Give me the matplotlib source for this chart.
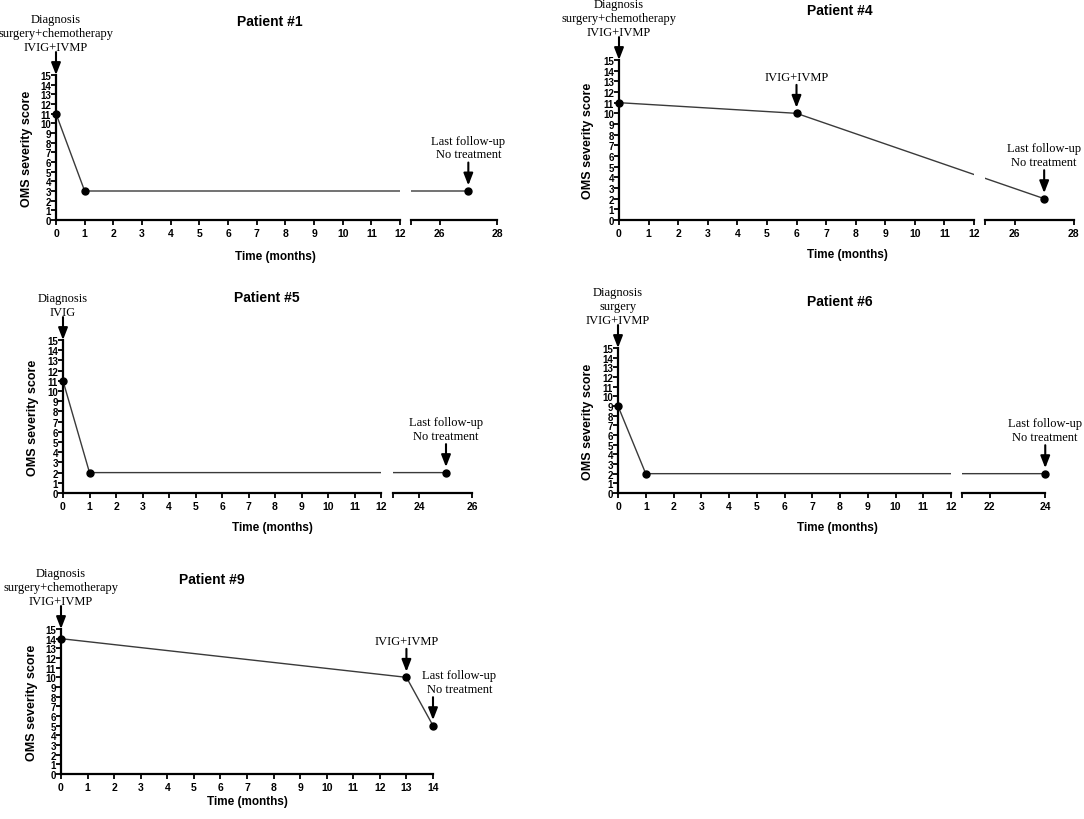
import numpy as np
import matplotlib
matplotlib.use('Agg')
import matplotlib.pyplot as plt

W, H = 1084, 820
SANS = ['Liberation Sans', 'DejaVu Sans']
SERIF = ['Liberation Serif', 'DejaVu Serif']
plt.rcParams['font.family'] = SANS

# ---------------- data ----------------
diag_full = "Diagnosis\nsurgery+chemotherapy\nIVIG+IVMP"
follow = "Last follow-up\nNo treatment"

p1_months = [0, 1, 27]
p1_scores = [11, 3, 3]
p1_events = [0, 27]
p1_labels = [diag_full, follow]
p1_right_ticks = [25, 26, 28]
p1_right_labels = ['', '26', '28']

p4_months = [0, 6, 27]
p4_scores = [11, 10, 2]
p4_events = [0, 6, 27]
p4_labels = [diag_full, "IVIG+IVMP", follow]
p4_right_ticks = [25, 26, 28]
p4_right_labels = ['', '26', '28']

p5_months = [0, 1, 25]
p5_scores = [11, 2, 2]
p5_events = [0, 25]
p5_labels = ["Diagnosis\nIVIG", follow]
p5_right_ticks = [23, 24, 26]
p5_right_labels = ['', '24', '26']

p6_months = [0, 1, 24]
p6_scores = [9, 2, 2]
p6_events = [0, 24]
p6_labels = ["Diagnosis\nsurgery\nIVIG+IVMP", follow]
p6_right_ticks = [21, 22, 24]
p6_right_labels = ['', '22', '24']

p9_months = [0, 13, 14]
p9_scores = [14, 10, 5]
p9_events = [0, 13, 14]
p9_labels = [diag_full, "IVIG+IVMP", follow]

y_ticks = list(range(0, 16))
left_ticks = list(range(0, 13))
p9_ticks = list(range(0, 15))

# ---------------- styling ----------------
LINE_C = '#3a3a3a'
ARROW = dict(arrowstyle='-|>,head_length=0.72,head_width=0.28', mutation_scale=10,
             lw=1.5, color='black', shrinkA=0)
XT_SIZE = 7.5
YT_SIZE = 7

fig = plt.figure(figsize=(W / 100, H / 100), dpi=100)
fig.patch.set_facecolor('white')


def px_axes(x0, x1, ytop, ybot):
    return fig.add_axes([x0 / W, 1 - ybot / H, (x1 - x0) / W, (ybot - ytop) / H])


def make_scale(rs, g):
    def fwd(x):
        x = np.asarray(x, float)
        return np.where(x <= 12, x,
                        np.where(x >= rs, x - rs + 12 + g, 12 + (x - 12) * g / (rs - 12)))

    def inv(y):
        y = np.asarray(y, float)
        return np.where(y <= 12, y,
                        np.where(y >= 12 + g, y - 12 - g + rs, 12 + (y - 12) * (rs - 12) / g))
    return fwd, inv


def style(ax, show_y=True):
    ax.patch.set_alpha(0)
    for s in ['top', 'right']:
        ax.spines[s].set_visible(False)
    ax.spines['bottom'].set_linewidth(1.6)
    ax.set_ylim(0, 15)
    if show_y:
        ax.spines['left'].set_linewidth(1.6)
        ax.set_yticks(y_ticks, [str(v) for v in y_ticks], fontweight='bold', fontsize=YT_SIZE)
        ax.tick_params(axis='y', length=3.3, width=1.3, pad=0.3)
    else:
        ax.spines['left'].set_visible(False)
        ax.tick_params(axis='y', left=False, labelleft=False)
    ax.tick_params(axis='x', length=3.3, width=1.3, pad=2.5)


def annotate_events(ax_for, months, scores, events, labels, text_dx=None):
    for i, (ev, lab) in enumerate(zip(events, labels)):
        ax = ax_for(ev)
        if i == 0:
            y = 15
            tail, tip, tgap = 16.5, 0.0, -0.5
        else:
            y = scores[months.index(ev)]
            tail, tip, tgap = 20.5, 4.0, 1.5
        dx = 0 if text_dx is None else text_dx[i]
        ax.annotate('', xy=(ev, y), xycoords='data', xytext=(0, tail),
                    textcoords='offset points',
                    arrowprops=dict(ARROW, shrinkB=tip), annotation_clip=False)
        ax.annotate(lab, xy=(ev, y), xycoords='data', xytext=(dx, tail + tgap),
                    textcoords='offset points', ha='center', va='bottom',
                    family=SERIF, fontsize=9, fontweight='normal',
                    annotation_clip=False)


def draw_broken(months, scores, events, labels, rticks, rlabels,
                x0, x1, gap, ytop, ybot):
    ppm = (x1 - x0) / 12.0
    g = gap / ppm
    rs = rticks[0]
    fwd, inv = make_scale(rs, g)
    axl = px_axes(x0, x1, ytop, ybot)
    axr = px_axes(x1 + gap, x1 + gap + 3 * ppm, ytop, ybot)
    m = np.array(months)
    s = np.array(scores)
    for ax, lim in ((axl, (0, 12)), (axr, (rs, rs + 3))):
        ax.set_xscale('function', functions=(fwd, inv))
        ax.set_xlim(*lim)
        ax.plot(months, scores, color=LINE_C, lw=1.0, zorder=2)
        sel = (m >= lim[0]) & (m <= lim[1])
        ax.plot(m[sel], s[sel], 'o', color='black', ms=5, clip_on=False, zorder=3)
    style(axl, True)
    style(axr, False)
    axl.set_xticks(left_ticks, [str(v) for v in left_ticks], fontweight='bold', fontsize=XT_SIZE)
    axr.set_xticks(rticks, rlabels, fontweight='bold', fontsize=XT_SIZE)
    annotate_events(lambda e: axl if e <= 12 else axr, months, scores, events, labels)
    return axl, axr


def panel_text(title, tx, ty, xl_x, xl_y, yl_x, ytop, ybot):
    fig.text(tx / W, 1 - ty / H, title, ha='center', va='center',
             fontsize=10, fontweight='bold')
    fig.text(xl_x / W, 1 - xl_y / H, 'Time (months)', ha='center', va='center',
             fontsize=8.5, fontweight='bold')
    fig.text(yl_x / W, 1 - (ytop + ybot) / 2 / H, 'OMS severity score', rotation=90,
             ha='center', va='center', fontsize=9, fontweight='bold')


# Patient #1
draw_broken(p1_months, p1_scores, p1_events, p1_labels, p1_right_ticks, p1_right_labels,
            56, 400, 11, 76, 221)
panel_text('Patient #1', 270, 22, 275, 257, 27, 76, 221)

# Patient #4
draw_broken(p4_months, p4_scores, p4_events, p4_labels, p4_right_ticks, p4_right_labels,
            619, 974, 11, 61, 221)
panel_text('Patient #4', 840, 11, 847, 255, 588, 61, 221)

# Patient #5
draw_broken(p5_months, p5_scores, p5_events, p5_labels, p5_right_ticks, p5_right_labels,
            63, 381, 12, 341, 494)
panel_text('Patient #5', 267, 298, 272, 528, 33, 341, 494)

# Patient #6
draw_broken(p6_months, p6_scores, p6_events, p6_labels, p6_right_ticks, p6_right_labels,
            618, 951, 11, 349, 494)
panel_text('Patient #6', 840, 302, 837, 528, 588, 349, 494)

# Patient #9 (continuous axis)
ax9 = px_axes(61, 433, 630, 775)
ax9.set_xlim(0, 14)
ax9.plot(p9_months, p9_scores, color=LINE_C, lw=1.0, zorder=2)
ax9.plot(p9_months, p9_scores, 'o', color='black', ms=5, clip_on=False, zorder=3)
style(ax9, True)
ax9.set_xticks(p9_ticks, [str(v) for v in p9_ticks], fontweight='bold', fontsize=XT_SIZE)
annotate_events(lambda e: ax9, p9_months, p9_scores, p9_events, p9_labels,
                text_dx=[0, 0, 19])
panel_text('Patient #9', 212, 580, 247, 802, 32, 630, 775)

fig.savefig('out.png', dpi=100, facecolor='white')
